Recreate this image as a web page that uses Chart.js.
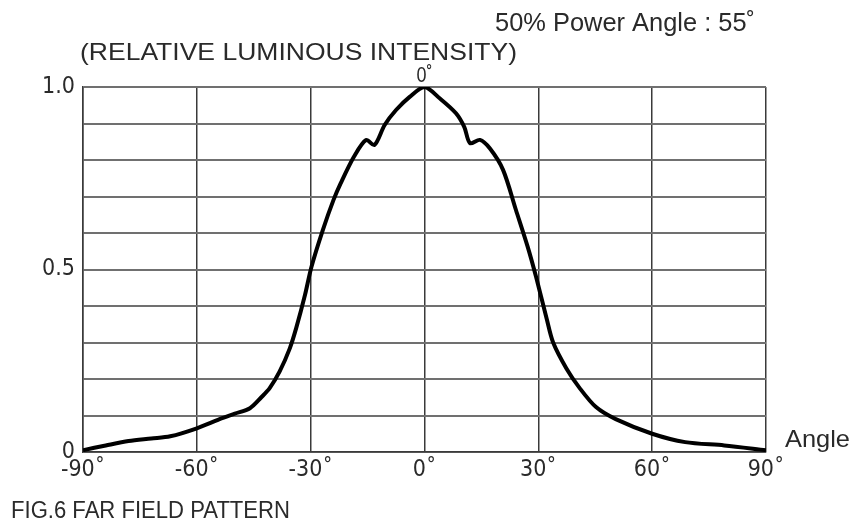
<!DOCTYPE html>
<html>
<head>
<meta charset="utf-8">
<script src="https://cdn.jsdelivr.net/npm/chart.js@4/dist/chart.umd.min.js"></script>
<style>
html,body{margin:0;padding:0;background:#fff;}
#wrap{position:relative;width:854px;height:525px;}
</style>
</head>
<body>
<div id="wrap"><canvas id="c" width="854" height="525"></canvas></div>
<script>
// Data
const angles = [-90, -84, -78, -72, -67, -60, -54, -50, -46, -43, -40.8, -38.2, -35.5, -33.8, -31.5, -29.8, -26.8, -24, -22.1, -18.6, -15.4, -13.2, -10.5, -7.5, -3.9, 0,
                4, 8.3, 10.5, 12, 14.6, 17.2, 20.7, 24.1, 27.2, 29.4, 32.2, 33.9, 37.4, 40.9, 45.2, 50.4, 60, 68.7, 79, 90];
const intensity = [0.005, 0.018, 0.03, 0.037, 0.043, 0.065, 0.09, 0.105, 0.12, 0.15, 0.175, 0.22, 0.284, 0.34, 0.43, 0.507, 0.608, 0.69, 0.736, 0.809, 0.855, 0.841, 0.896, 0.937, 0.973, 1.0,
                   0.969, 0.928, 0.89, 0.846, 0.855, 0.832, 0.773, 0.663, 0.562, 0.48, 0.365, 0.30, 0.229, 0.175, 0.123, 0.09, 0.05, 0.027, 0.018, 0.005];
const xTicks = [-90, -60, -30, 0, 30, 60, 90];
const yLabels = {0: '0', 0.5: '0.5', 1: '1.0'};
const titleText = '50% Power Angle : 55\u02DA';
const yAxisTitle = '(RELATIVE LUMINOUS INTENSITY)';
const xAxisTitle = 'Angle';
const figCaption = 'FIG.6 FAR FIELD PATTERN';

const points = angles.map((a, i) => ({x: a, y: intensity[i]}));
const FONT = '"Liberation Sans", Arial, sans-serif';
const NARROW = '"Liberation Sans Narrow", "Arial Narrow", "DejaVu Sans Condensed", sans-serif';
const TXT = '#2a2a2a';

function fitText(ctx, text, x, y, size, width, align) {
  ctx.save();
  ctx.font = size + 'px ' + FONT;
  const w = ctx.measureText(text).width;
  const sx = width / w;
  let left = x;
  if (align === 'center') left = x - width / 2;
  ctx.translate(left, y);
  ctx.scale(sx, 1);
  ctx.textAlign = 'left';
  ctx.fillText(text, 0, 0);
  ctx.restore();
}

const extraText = {
  id: 'extraText',
  afterDraw(chart) {
    const ctx = chart.ctx;
    const xs = chart.scales.x, ys = chart.scales.y;
    ctx.save();
    ctx.fillStyle = TXT;
    ctx.textBaseline = 'alphabetic';
    fitText(ctx, titleText, 495, 31, 25, 260);
    fitText(ctx, yAxisTitle, 80, 60, 24, 437);
    fitText(ctx, '0\u02DA', xs.getPixelForValue(0), ys.getPixelForValue(1) - 5, 22, 16, 'center');
    fitText(ctx, xAxisTitle, 785, 447, 24, 65);
    fitText(ctx, figCaption, 11, 518, 23, 279);
    ctx.restore();
  }
};

new Chart(document.getElementById('c'), {
  type: 'scatter',
  data: {
    datasets: [{
      data: points,
      showLine: true,
      borderColor: '#000',
      borderWidth: 4,
      pointRadius: 0,
      tension: 0.3,
      fill: false
    }]
  },
  options: {
    responsive: false,
    animation: false,
    events: [],
    layout: {padding: {top: 87, right: 88, left: 0, bottom: 0}},
    plugins: {legend: {display: false}, tooltip: {enabled: false}},
    scales: {
      x: {
        type: 'linear', min: -90, max: 90,
        afterBuildTicks: s => { s.ticks = xTicks.map(v => ({value: v})); },
        afterFit: s => { s.height = 73; },
        grid: {color: '#3a3a3a', lineWidth: 1.5, drawTicks: false},
        border: {color: '#3a3a3a', width: 1.5},
        ticks: {
          padding: 4, maxRotation: 0, color: TXT,
          font: {family: NARROW, size: 23},
          callback: v => v + '\u02DA'
        }
      },
      y: {
        type: 'linear', min: 0, max: 1,
        ticks: {
          stepSize: 0.1, padding: 8, color: TXT,
          font: {family: NARROW, size: 23},
          callback: v => { const k = Math.round(v * 10) / 10; return yLabels[k] !== undefined ? yLabels[k] : ''; }
        },
        afterFit: s => { s.width = 83; },
        grid: {color: '#707070', lineWidth: 2, drawTicks: false},
        border: {color: '#3a3a3a', width: 1.5}
      }
    }
  },
  plugins: [extraText]
});
</script>
</body>
</html>
